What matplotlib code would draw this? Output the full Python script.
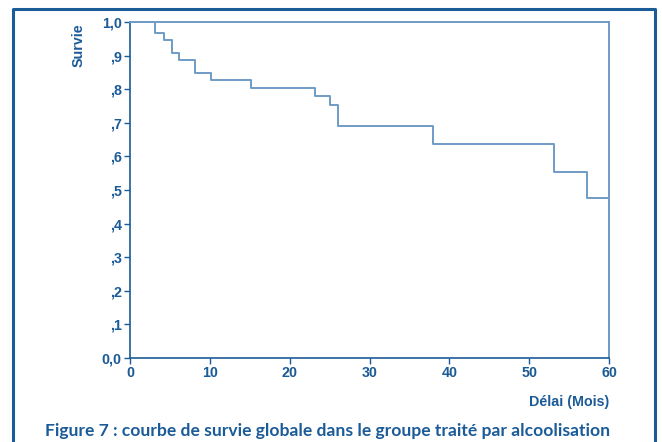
import matplotlib.pyplot as plt

# step times (months) and survival after each step
temps = [0, 3.1, 4.3, 5.2, 6.2, 8.2, 10.1, 15.1, 23.2, 25.1, 26.1, 38.0, 53.1, 57.2, 60]
survie = [1.0, 0.968, 0.946, 0.909, 0.887, 0.849, 0.828, 0.805, 0.779, 0.752, 0.690, 0.636, 0.555, 0.476, 0.476]

yticks = [0.0, 0.1, 0.2, 0.3, 0.4, 0.5, 0.6, 0.7, 0.8, 0.9, 1.0]
ylabels = ['0,0', ',1', ',2', ',3', ',4', ',5', ',6', ',7', ',8', ',9', '1,0']
xticks = [0, 10, 20, 30, 40, 50, 60]

dark = '#1b5b98'
light = '#6e9bc6'

plt.rcParams['font.family'] = ['Liberation Sans', 'DejaVu Sans']

fig = plt.figure(figsize=(6.62, 4.42), dpi=100)
ax = fig.add_axes([130 / 662, 1 - 358 / 442, 479 / 662, 336 / 442])

ax.step(temps, survie, where='post', color=light, lw=1.4)
ax.plot([temps[-1], temps[-1]], [survie[-1], 0], color=light, lw=1.4)

ax.set_xlim(0, 60)
ax.set_ylim(0, 1.0)
ax.set_xticks(xticks)
ax.set_xticklabels([str(t) for t in xticks], fontsize=10.3, fontweight='bold', color=dark)
ax.set_yticks(yticks)
ax.set_yticklabels(ylabels, fontsize=10.3, fontweight='bold', color=dark)
ax.tick_params(direction='out', length=4, width=1, color=dark, pad=2)

for s in ['left', 'bottom']:
    ax.spines[s].set_color(dark)
    ax.spines[s].set_linewidth(1.2)
for s in ['top', 'right']:
    ax.spines[s].set_color(light)
    ax.spines[s].set_linewidth(1.4)

ax.set_ylabel('Survie', fontsize=10.3, fontweight='bold', color=dark)
ax.yaxis.set_label_coords(-0.092, 0.93)
ax.set_xlabel('Délai (Mois)', fontsize=10.3, fontweight='bold', color=dark)
ax.xaxis.set_label_coords(1.0, -0.131)
ax.xaxis.label.set_horizontalalignment('right')
ax.xaxis.label.set_verticalalignment('center')

# outer frame (open at the bottom)
fig.add_artist(plt.Line2D([13 / 662, 13 / 662, 655 / 662, 655 / 662],
                          [0, 1 - 9 / 442, 1 - 9 / 442, 0],
                          transform=fig.transFigure, color=dark, lw=2.2))

fig.text(328 / 662, 1 - 431 / 442,
         'Figure 7 : courbe de survie globale dans le groupe traité par alcoolisation',
         ha='center', va='center', fontsize=12.6, fontweight='bold', color=dark,
         family=['Lato', 'DejaVu Sans'])

fig.savefig('out.png', dpi=100)
